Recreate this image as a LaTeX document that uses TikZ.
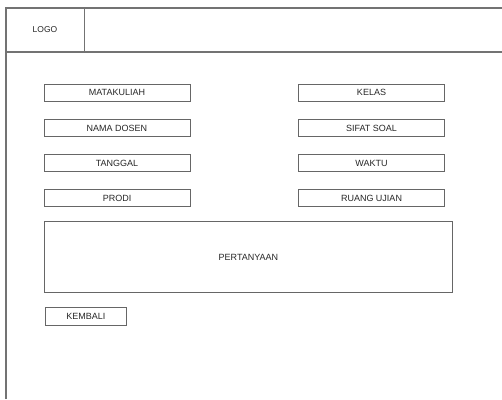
\documentclass[tikz,border=0pt]{standalone}
\usepackage{fontspec}
\setmainfont{Liberation Sans}
\usetikzlibrary{positioning}

\begin{document}
\begin{tikzpicture}[
  x=1pt,y=-1pt,
  field/.style={draw=black!60,line width=0.9pt,minimum width=146pt,minimum height=17pt,inner sep=0pt,font=\fontsize{9}{10}\selectfont,text=black!85},
  frame/.style={draw=black!55,line width=1.2pt}
]
\useasboundingbox (0,0) rectangle (502,399);

% Page frame and header
\draw[frame] (6,399) -- (6,8) -- (502,8);
\draw[frame] (6,52) -- (502,52);
\node[frame,draw=none,minimum width=78pt,minimum height=44pt,inner sep=0pt,font=\fontsize{8.5}{9}\selectfont,text=black!85] (logo) at (45,30) {LOGO};
\draw[frame] (logo.north east) -- (logo.south east);

% Left column
\node[field] (matakuliah) at (117,92.5) {MATAKULIAH};
\node[field,below=18pt of matakuliah] (dosen) {NAMA DOSEN};
\node[field,below=17pt of dosen] (tanggal) {TANGGAL};
\node[field,below=17pt of tanggal] (prodi) {PRODI};

% Right column
\node[field] (kelas) at (371.5,92.5) {KELAS};
\node[field,below=18pt of kelas] (sifat) {SIFAT SOAL};
\node[field,below=17pt of sifat] (waktu) {WAKTU};
\node[field,below=17pt of waktu] (ruang) {RUANG UJIAN};

% Question area and back button
\node[field,minimum width=408pt,minimum height=71pt,anchor=north west] (pertanyaan) at (44,221) {PERTANYAAN};
\node[field,minimum width=81pt,minimum height=18pt,anchor=north west] (kembali) at (45,307) {KEMBALI};
\end{tikzpicture}
\end{document}
